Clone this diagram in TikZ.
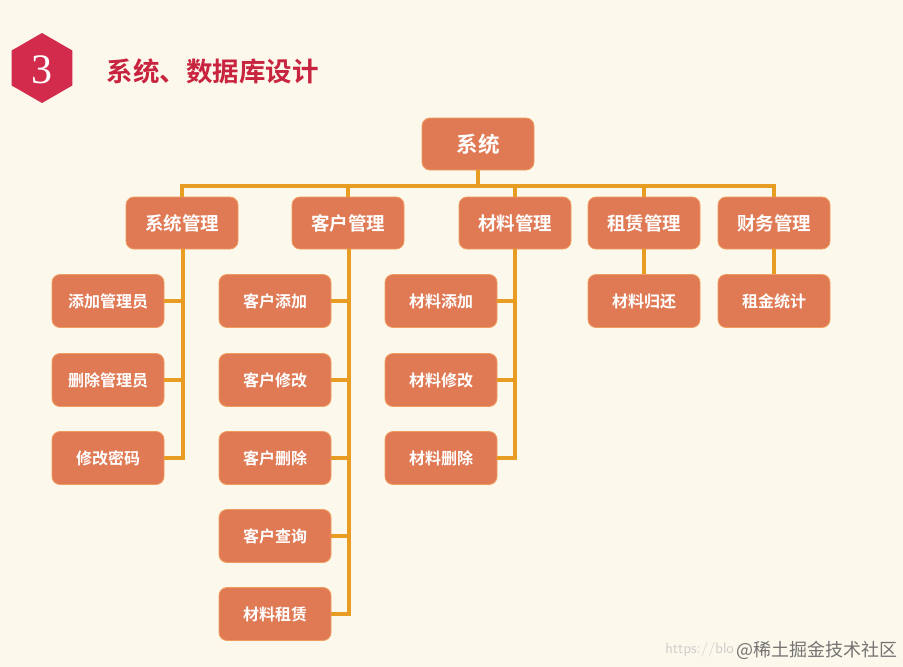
\documentclass[tikz,border=0pt]{standalone}
\usepackage{fontspec}
\setmainfont{Liberation Serif}
\newfontfamily\cjk{Noto Sans CJK SC}
\newfontfamily\cjkb{Noto Sans CJK SC Bold}
\usetikzlibrary{shapes.geometric}
\definecolor{bg}{HTML}{FDF8EC}
\definecolor{boxfill}{HTML}{E07A55}
\definecolor{boxline}{HTML}{EF9D5E}
\definecolor{conn}{HTML}{E89C22}
\definecolor{titlered}{HTML}{C8243F}
\definecolor{hexred}{HTML}{D22B4B}
\tikzset{
  boxbase/.style={rectangle, rounded corners=8pt, fill=boxfill, draw=boxline, line width=0.8pt,
    minimum width=112pt, text=white, inner sep=0pt},
  topbox/.style={boxbase, minimum height=52pt, font=\cjkb\fontsize{21.5}{21.5}\selectfont},
  lvlone/.style={boxbase, minimum height=52pt, font=\cjkb\fontsize{18.5}{18.5}\selectfont},
  lvltwo/.style={boxbase, minimum height=53pt, font=\cjkb\fontsize{16}{16}\selectfont},
  link/.style={draw=conn, line width=4.5pt},
}
\begin{document}
\begin{tikzpicture}[x=1pt,y=-1pt]
\fill[bg] (0,0) rectangle (903,667);
\useasboundingbox (0,0) rectangle (903,667);
% header
\node[regular polygon, regular polygon sides=6, shape border rotate=90, fill=hexred, minimum size=70pt, inner sep=0pt] (hex) at (42,68) {};
\node[text=white, font=\fontsize{42}{42}\selectfont] (num) at (42,70) {3};
\node[anchor=west, text=titlered, font=\cjkb\fontsize{26.5}{26.5}\selectfont] (title) at (103,71) {系统、数据库设计};
% top
\node[topbox] (sys) at (478,144) {系统};
% level one
\node[lvlone] (m1) at (182,223) {系统管理};
\node[lvlone] (m2) at (348,223) {客户管理};
\node[lvlone] (m3) at (515,223) {材料管理};
\node[lvlone] (m4) at (644,223) {租赁管理};
\node[lvlone] (m5) at (774,223) {财务管理};
% level two
\node[lvltwo] (a1) at (108,301) {添加管理员};
\node[lvltwo] (a2) at (108,380) {删除管理员};
\node[lvltwo] (a3) at (108,458) {修改密码};
\node[lvltwo] (b1) at (275,301) {客户添加};
\node[lvltwo] (b2) at (275,380) {客户修改};
\node[lvltwo] (b3) at (275,458) {客户删除};
\node[lvltwo] (b4) at (275,536) {客户查询};
\node[lvltwo] (b5) at (275,614) {材料租赁};
\node[lvltwo] (c1) at (441,301) {材料添加};
\node[lvltwo] (c2) at (441,380) {材料修改};
\node[lvltwo] (c3) at (441,458) {材料删除};
\node[lvltwo] (d1) at (644,301) {材料归还};
\node[lvltwo] (e1) at (774,301) {租金统计};
% connectors
\coordinate (busL) at (182,186);
\coordinate (busR) at (774,186);
\coordinate (s1) at (183,458);
\coordinate (s2) at (349,614);
\coordinate (s3) at (515,458);
\draw[link] (sys.south) -- (sys.south |- busL);
\draw[link, line cap=rect] (busL) -- (busR);
\draw[link] (busL) -- (m1.north);
\draw[link] (m2.north |- busL) -- (m2.north);
\draw[link] (m3.north |- busL) -- (m3.north);
\draw[link] (m4.north |- busL) -- (m4.north);
\draw[link] (busR) -- (m5.north);
\draw[link] (m1.south -| s1) -- (s1) -- (a3.east);
\draw[link] (a1.east) -- (a1.east -| s1);
\draw[link] (a2.east) -- (a2.east -| s1);
\draw[link] (m2.south -| s2) -- (s2) -- (b5.east);
\draw[link] (b1.east) -- (b1.east -| s2);
\draw[link] (b2.east) -- (b2.east -| s2);
\draw[link] (b3.east) -- (b3.east -| s2);
\draw[link] (b4.east) -- (b4.east -| s2);
\draw[link] (m3.south -| s3) -- (s3) -- (c3.east);
\draw[link] (c1.east) -- (c1.east -| s3);
\draw[link] (c2.east) -- (c2.east -| s3);
\draw[link] (m4.south) -- (d1.north);
\draw[link] (m5.south) -- (e1.north);
% watermark
\node[anchor=east, text=black!20, font=\fontsize{15}{15}\selectfont\sffamily, inner sep=0pt] (url) at (734,650) {https://blo};
\node[anchor=east, text=black!55, font=\cjk\fontsize{18}{18}\selectfont, inner sep=0pt] (wm) at (898,650) {@稀土掘金技术社区};
\end{tikzpicture}
\end{document}
